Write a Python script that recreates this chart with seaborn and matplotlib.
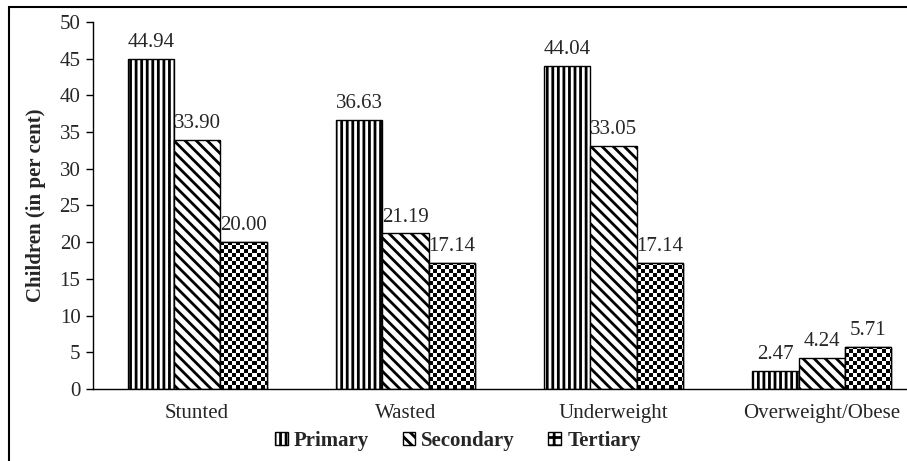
import numpy as np
import pandas as pd
import matplotlib
matplotlib.use('Agg')
import matplotlib.pyplot as plt
import seaborn as sns
from matplotlib.patches import Patch, Rectangle

categories = ['Stunted', 'Wasted', 'Underweight', 'Overweight/Obese']
levels = ['Primary', 'Secondary', 'Tertiary']
primary = [44.94, 36.63, 44.04, 2.47]
secondary = [33.90, 21.19, 33.05, 4.24]
tertiary = [20.00, 17.14, 17.14, 5.71]
yticks = [0, 5, 10, 15, 20, 25, 30, 35, 40, 45, 50]
ylabel = 'Children (in per cent)'

sns.set_style('white')
plt.rcParams['font.family'] = ['Liberation Serif', 'DejaVu Serif']
plt.rcParams['hatch.linewidth'] = 2.0
plt.rcParams['hatch.color'] = 'black'

FS = 15

df = pd.DataFrame({
    'category': categories * 3,
    'level': [lv for lv in levels for _ in categories],
    'value': primary + secondary + tertiary,
})

fig = plt.figure(figsize=(9.07, 4.61), dpi=100)
ax = fig.add_axes([93 / 907, 72 / 461, 833 / 907, 367 / 461])
sns.barplot(data=df, x='category', y='value', hue='level', order=categories,
            hue_order=levels, palette=['white'] * 3, edgecolor='black',
            linewidth=1.0, width=0.667, gap=0, ax=ax, legend=False,
            errorbar=None, saturation=1)

ax.set_xlim(-0.5, 3.5)
ax.set_ylim(0, 50)

hatches = ['|||', '\\\\\\', None]
for cont, h in zip(ax.containers, hatches):
    for bar in cont:
        if h:
            bar.set_hatch(h)

# checkerboard fill for tertiary bars
cell = 4
inv = ax.transData.inverted()
for bar in ax.containers[2]:
    x0, y0, w, h = bar.get_x(), bar.get_y(), bar.get_width(), bar.get_height()
    p0 = ax.transData.transform((x0, y0))
    p1 = ax.transData.transform((x0 + w, y0 + h))
    wpx, hpx = p1[0] - p0[0], p1[1] - p0[1]
    nc = int(np.ceil(wpx / cell))
    nr = int(np.ceil(hpx / cell))
    arr = (np.add.outer(np.arange(nr), np.arange(nc)) % 2).astype(float)
    q1 = inv.transform((p0[0] + nc * cell, p0[1] + nr * cell))
    im = ax.imshow(arr, cmap='gray', vmin=0, vmax=1, extent=(x0, q1[0], y0, q1[1]),
                   origin='lower', interpolation='nearest', aspect='auto',
                   zorder=bar.get_zorder() + 0.5)
    im.set_clip_path(bar)
    ax.add_patch(Rectangle((x0, y0), w, h, fill=False, edgecolor='black',
                           lw=1.0, zorder=bar.get_zorder() + 1))

ax.set_xlim(-0.5, 3.5)
ax.set_ylim(0, 50)

for cont in ax.containers:
    ax.bar_label(cont, fmt='%.2f', padding=5, fontsize=FS)

ax.set_yticks(yticks)
ax.tick_params(axis='y', left=True, length=5, width=1, direction='out', pad=4,
               labelsize=FS, color='black')
ax.tick_params(axis='x', bottom=False, length=0, pad=11, labelsize=FS)
for s in ['top', 'right']:
    ax.spines[s].set_visible(False)
for s in ['left', 'bottom']:
    ax.spines[s].set_color('black')
    ax.spines[s].set_linewidth(1.0)
ax.set_xlabel('')
ax.set_ylabel(ylabel, fontweight='bold', fontsize=FS, labelpad=10)

handles = [Patch(facecolor='white', edgecolor='black', hatch='|||'),
           Patch(facecolor='white', edgecolor='black', hatch='\\\\\\'),
           Patch(facecolor='white', edgecolor='black', hatch='++')]
fig.legend(handles, levels, loc='center', bbox_to_anchor=(458 / 907, 20 / 461),
           ncol=3, frameon=False, prop={'weight': 'bold', 'size': FS},
           handlelength=0.6, handleheight=0.6, handletextpad=0.3,
           columnspacing=1.6)

fig.add_artist(Rectangle((9 / 907, -0.1), 1.2, (461 - 7) / 461 + 0.1,
                         transform=fig.transFigure, fill=False,
                         edgecolor='black', lw=1.5))

fig.savefig('out.png', dpi=100, facecolor='white')
